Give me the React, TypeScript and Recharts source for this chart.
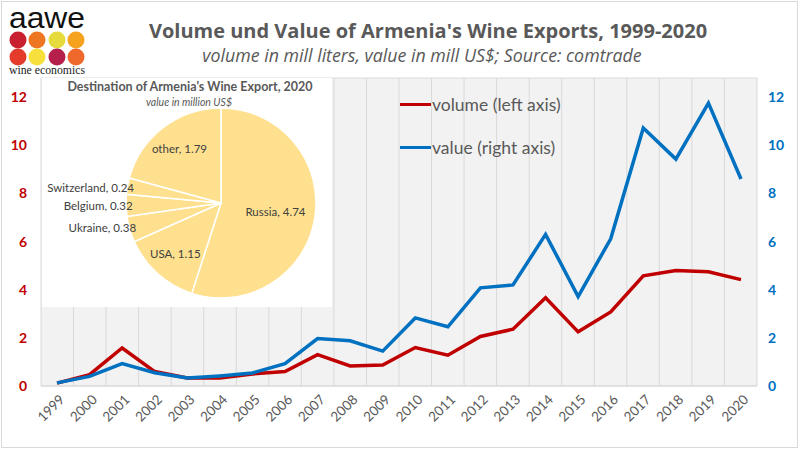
import React from "react";
import {
  CartesianGrid,
  Line,
  LineChart,
  Pie,
  PieChart,
  Cell,
  XAxis,
  YAxis,
} from "recharts";

const years = [
  "1999", "2000", "2001", "2002", "2003", "2004", "2005", "2006", "2007", "2008", "2009",
  "2010", "2011", "2012", "2013", "2014", "2015", "2016", "2017", "2018", "2019", "2020",
];
// mill liters (left axis)
const volume = [
  0.12, 0.47, 1.58, 0.6, 0.33, 0.33, 0.5, 0.6, 1.3, 0.83, 0.87,
  1.6, 1.28, 2.06, 2.36, 3.67, 2.25, 3.08, 4.58, 4.8, 4.75, 4.42,
];
// mill US$ (right axis)
const value = [
  0.13, 0.4, 0.93, 0.55, 0.33, 0.42, 0.54, 0.93, 1.97, 1.88, 1.45,
  2.83, 2.46, 4.08, 4.2, 6.3, 3.72, 6.12, 10.72, 9.43, 11.76, 8.6,
];
const yTicks = [0, 2, 4, 6, 8, 10, 12];

const destinations = ["Russia", "USA", "Ukraine", "Belgium", "Switzerland", "other"];
const destinationValues = [4.74, 1.15, 0.38, 0.32, 0.24, 1.79];

const RED = "#C00000";
const BLUE = "#0070C0";
const GREY = "#595959";
const PIE_FILL = "#FEE08F";

const data = years.map((y, i) => ({ year: y, volume: volume[i], value: value[i] }));
const pieData = destinations.map((n, i) => ({ name: n, value: destinationValues[i] }));

const RAD = Math.PI / 180;

function XTick(p: any) {
  return (
    <g transform={`translate(${p.x + 5},${p.y + 9})`}>
      <text
        transform="rotate(-45)"
        textAnchor="end"
        dy="0.35em"
        fill={GREY}
        fontSize={13.5}
        fontFamily="Lato"
      >
        {p.payload.value}
      </text>
    </g>
  );
}

function PieLabel(p: any) {
  const { cx, cy, midAngle, outerRadius, percent, name, value: v } = p;
  const small = percent < 0.06;
  const r = outerRadius * (small ? 0.93 : percent > 0.5 ? 0.58 : 0.72);
  const x = cx + r * Math.cos(-midAngle * RAD);
  const y = cy + r * Math.sin(-midAngle * RAD);
  return (
    <text
      x={x}
      y={y}
      textAnchor={small ? "end" : "middle"}
      dominantBaseline="central"
      fill="#404040"
      fontSize={11.5}
      fontFamily="Lato"
    >
      {`${name}, ${v.toFixed(2)}`}
    </text>
  );
}

function LegendBox() {
  const items = [
    { label: "volume (left axis)", color: RED },
    { label: "value (right axis)", color: BLUE },
  ];
  return (
    <div style={{ position: "absolute", left: 400, top: 83, fontFamily: "Lato", fontSize: 17.5, color: GREY }}>
      {items.map((it) => (
        <div key={it.label} style={{ display: "flex", alignItems: "center", height: 43 }}>
          <span style={{ display: "inline-block", width: 31, height: 3.5, background: it.color, marginRight: 1 }} />
          {it.label}
        </div>
      ))}
    </div>
  );
}

function Logo() {
  const row1 = ["#C8202F", "#EE7623", "#E5DB3C", "#F5A21F"];
  const row2 = ["#E53B2C", "#F7E03C", "#B51F4B", "#F0692C"];
  const xs = [18, 37, 57, 76];
  return (
    <svg width={100} height={80} style={{ position: "absolute", left: 0, top: 0 }}>
      <text x={9} y={28} fontSize={29} fontFamily="Liberation Sans" fill="#111" textLength={76} lengthAdjust="spacingAndGlyphs">
        aawe
      </text>
      {row1.map((c, i) => (
        <circle key={"a" + i} cx={xs[i]} cy={40} r={8.5} fill={c} />
      ))}
      {row2.map((c, i) => (
        <circle key={"b" + i} cx={xs[i]} cy={57} r={8.5} fill={c} />
      ))}
      <text x={9} y={74} fontSize={12} fontFamily="Liberation Serif" fill="#222" textLength={76} lengthAdjust="spacingAndGlyphs">
        wine economics
      </text>
    </svg>
  );
}

export default function App() {
  return (
    <div
      style={{
        position: "absolute",
        left: 0,
        top: 0,
        width: 800,
        height: 451,
        background: "#fff",
        overflow: "hidden",
      }}
    >
      <div
        style={{
          position: "absolute",
          left: 1,
          top: 1,
          width: 795,
          height: 445,
          border: "1px solid #D9D9D9",
        }}
      />
      <LineChart width={800} height={451} data={data} margin={{ top: 78, right: 0, bottom: 0, left: 0 }}>
        <CartesianGrid
          fill="#F2F2F2"
          fillOpacity={1}
          stroke="#D9D9D9"
          verticalCoordinatesGenerator={({ offset }: any) =>
            Array.from({ length: years.length + 1 }, (_, i) => offset.left + (i * offset.width) / years.length)
          }
        />
        <XAxis
          dataKey="year"
          height={65}
          padding={{ left: 16, right: 16 }}
          axisLine={{ stroke: "#D9D9D9" }}
          tickLine={false}
          tickSize={0}
          interval={0}
          tick={<XTick />}
        />
        <YAxis
          yAxisId="left"
          width={41}
          domain={[0, 12.8]}
          ticks={yTicks}
          axisLine={false}
          tickLine={false}
          tickSize={0}
          tickMargin={14}
          tick={{ fill: RED, fontSize: 14, fontWeight: 700, fontFamily: "Lato" }}
        />
        <YAxis
          yAxisId="right"
          orientation="right"
          width={43}
          domain={[0, 12.8]}
          ticks={yTicks}
          axisLine={false}
          tickLine={false}
          tickSize={0}
          tickMargin={11}
          tick={{ fill: BLUE, fontSize: 14, fontWeight: 700, fontFamily: "Lato" }}
        />
        <Line
          yAxisId="left"
          dataKey="volume"
          stroke={RED}
          strokeWidth={3.5}
          dot={false}
          isAnimationActive={false}
        />
        <Line
          yAxisId="right"
          dataKey="value"
          stroke={BLUE}
          strokeWidth={3.5}
          dot={false}
          isAnimationActive={false}
        />
      </LineChart>

      <LegendBox />

      <div style={{ position: "absolute", left: 42, top: 78, width: 290, height: 229, background: "#fff" }}>
        <PieChart width={290} height={229} margin={{ top: 0, right: 0, bottom: 0, left: 0 }}>
          <text x={148} y={8} textAnchor="middle" dominantBaseline="central" fill={GREY} fontSize={12.5} fontWeight={700} fontFamily="Lato">
            Destination of Armenia's Wine Export, 2020
          </text>
          <text x={147} y={24} textAnchor="middle" dominantBaseline="central" fill={GREY} fontSize={10.5} fontStyle="italic" fontFamily="Lato">
            value in million US$
          </text>
          <Pie
            data={pieData}
            dataKey="value"
            nameKey="name"
            cx={179}
            cy={125}
            outerRadius={95}
            startAngle={90}
            endAngle={-270}
            stroke="#fff"
            strokeWidth={1.5}
            labelLine={false}
            label={PieLabel}
            isAnimationActive={false}
          >
            {pieData.map((d) => (
              <Cell key={d.name} fill={PIE_FILL} />
            ))}
          </Pie>
        </PieChart>
      </div>

      <Logo />

      <div
        style={{
          position: "absolute",
          left: 428,
          top: 30,
          transform: "translate(-50%, -50%)",
          whiteSpace: "nowrap",
          fontFamily: "Open Sans",
          fontWeight: 700,
          fontSize: 20,
          color: GREY,
        }}
      >
        Volume und Value of Armenia's Wine Exports, 1999-2020
      </div>
      <div
        style={{
          position: "absolute",
          left: 422,
          top: 55,
          transform: "translate(-50%, -50%)",
          whiteSpace: "nowrap",
          fontFamily: "Open Sans",
          fontStyle: "italic",
          fontSize: 17.8,
          color: GREY,
        }}
      >
        volume in mill liters, value in mill US$; Source: comtrade
      </div>
    </div>
  );
}
